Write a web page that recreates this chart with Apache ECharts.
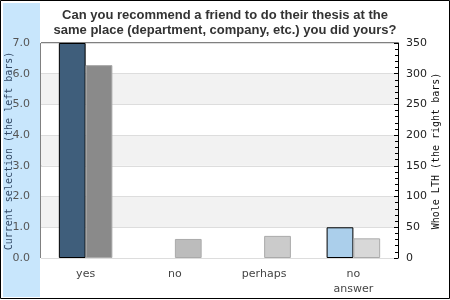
<!DOCTYPE html>
<html>
<head>
<meta charset="utf-8">
<script src="https://cdn.jsdelivr.net/npm/echarts@6/dist/echarts.min.js"></script>
<style>html,body{margin:0;padding:0;background:#fff}#c{width:450px;height:300px}</style>
</head>
<body>
<div id="c"></div>
<script>
const categories = ['yes', 'no', 'perhaps', 'no\nanswer'];
const currentSelection = [7.0, 0, 0, 1.0];
const wholeLTH = [314, 31, 36, 32];
const leftColors = ['#3f5e7b', '#3f5e7b', '#3f5e7b', '#abcfeb'];
const rightColors = ['#8a8a8a', '#bcbcbc', '#cbcbcb', '#d8d8d8'];
const titleText = 'Can you recommend a friend to do their thesis at the\nsame place (department, company, etc.) you did yours?';
const leftAxisName = 'Current selection (the left bars)';
const rightAxisName = 'Whole LTH (the right bars)';

const chart = echarts.init(document.getElementById('c'), null, {renderer: 'canvas'});
chart.setOption({
  animation: false,
  backgroundColor: '#fff',
  graphic: [
    {type: 'rect', z: -10, shape: {x: 3, y: 3, width: 37, height: 294}, style: {fill: '#c8e6fc'}},
    {type: 'rect', z: 100, shape: {x: 0.5, y: 0.5, width: 449, height: 298}, style: {fill: null, stroke: '#000', lineWidth: 1}},
    {type: 'text', z: 50, x: 9, y: 151, rotation: Math.PI / 2,
      style: {text: leftAxisName, fontFamily: 'DejaVu Sans Mono', fontSize: 10, fill: '#334a66', textAlign: 'center', textVerticalAlign: 'middle'}},
    {type: 'text', z: 50, x: 436, y: 151, rotation: Math.PI / 2,
      style: {text: rightAxisName, fontFamily: 'DejaVu Sans Mono', fontSize: 10, fill: '#111', textAlign: 'center', textVerticalAlign: 'middle'}}
  ],
  title: {
    text: titleText,
    left: 'center',
    top: 3,
    textStyle: {fontFamily: 'Liberation Sans', fontWeight: 'bold', fontSize: 13, lineHeight: 15, color: '#333'}
  },
  grid: {left: 41, right: 52, top: 43, bottom: 42, containLabel: false, outerBoundsMode: 'none',
    show: true, borderColor: '#000', borderWidth: 1, backgroundColor: 'transparent'},
  xAxis: {
    type: 'category',
    data: categories,
    axisLine: {show: false},
    axisTick: {show: false},
    axisLabel: {fontFamily: 'DejaVu Sans', fontSize: 11, color: '#444', margin: 9, lineHeight: 15}
  },
  yAxis: [
    {
      type: 'value', min: 0, max: 7, interval: 1,
      axisLine: {show: false}, axisTick: {show: false},
      axisLabel: {fontFamily: 'DejaVu Sans', fontSize: 11, color: '#555', margin: 11, formatter: v => v.toFixed(1)},
      splitLine: {show: true, lineStyle: {color: '#dddddd'}},
      splitArea: {show: true, areaStyle: {color: ['#ffffff', '#f2f2f2']}}
    },
    {
      type: 'value', min: 0, max: 350, interval: 50, position: 'right',
      axisLine: {show: true, lineStyle: {color: '#000'}},
      axisTick: {show: true, inside: true, length: 4, lineStyle: {color: '#000'}},
      minorTick: {show: true, splitNumber: 5, length: 3, lineStyle: {color: '#000'}},
      axisLabel: {fontFamily: 'DejaVu Sans', fontSize: 11, color: '#222', margin: 8},
      splitLine: {show: false}
    }
  ],
  series: [
    {
      type: 'bar', yAxisIndex: 0, barGap: '0%', barCategoryGap: '40%',
      data: currentSelection.map((v, i) => ({value: v, itemStyle: {color: leftColors[i], borderColor: '#000', borderWidth: v ? 1 : 0}}))
    },
    {
      type: 'bar', yAxisIndex: 1, barGap: '0%', barCategoryGap: '40%',
      data: wholeLTH.map((v, i) => ({value: v, itemStyle: {color: rightColors[i], borderColor: '#aaaaaa', borderWidth: 1}}))
    }
  ]
});
</script>
</body>
</html>
